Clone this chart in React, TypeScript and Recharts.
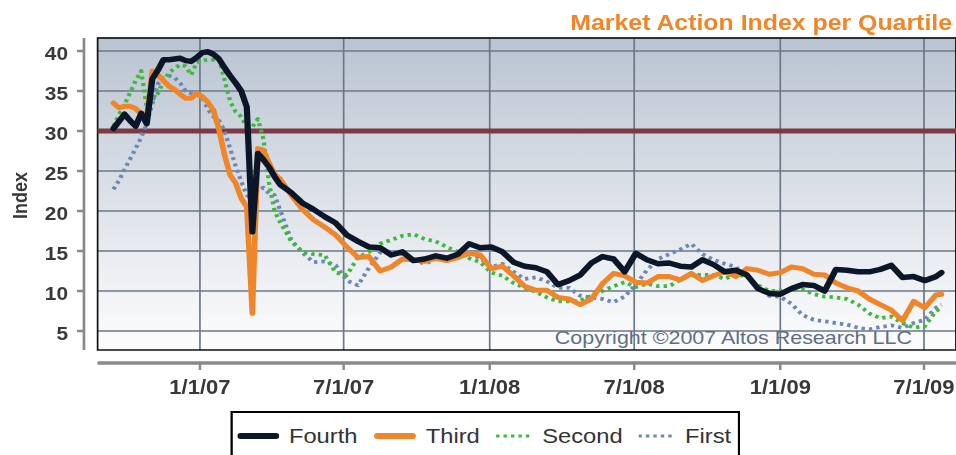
import React from "react";
import {
  LineChart, Line, XAxis, YAxis, CartesianGrid, ReferenceLine, ReferenceArea,
} from "recharts";

// weekly readings until mid April 2007, every other week after that
const weeks = [
  "2006-09-14", "2006-09-21", "2006-09-28", "2006-10-05", "2006-10-12", "2006-10-19", "2006-10-26", "2006-11-02", "2006-11-09", "2006-11-16",
  "2006-11-23", "2006-11-30", "2006-12-07", "2006-12-14", "2006-12-21", "2006-12-28", "2007-01-04", "2007-01-11", "2007-01-18", "2007-01-25",
  "2007-02-01", "2007-02-08", "2007-02-15", "2007-02-22", "2007-03-01", "2007-03-08", "2007-03-15", "2007-03-22", "2007-03-29", "2007-04-05",
  "2007-04-12", "2007-04-26", "2007-05-10", "2007-05-24", "2007-06-07", "2007-06-21", "2007-07-05", "2007-07-19", "2007-08-02", "2007-08-16",
  "2007-08-30", "2007-09-13", "2007-09-27", "2007-10-11", "2007-10-25", "2007-11-08", "2007-11-22", "2007-12-06", "2007-12-20", "2008-01-03",
  "2008-01-17", "2008-01-31", "2008-02-14", "2008-02-28", "2008-03-13", "2008-03-27", "2008-04-10", "2008-04-24", "2008-05-08", "2008-05-22",
  "2008-06-05", "2008-06-19", "2008-07-03", "2008-07-17", "2008-07-31", "2008-08-14", "2008-08-28", "2008-09-11", "2008-09-25", "2008-10-09",
  "2008-10-23", "2008-11-06", "2008-11-20", "2008-12-04", "2008-12-18", "2009-01-01", "2009-01-15", "2009-01-29", "2009-02-12", "2009-02-26",
  "2009-03-12", "2009-03-26", "2009-04-09", "2009-04-23", "2009-05-07", "2009-05-21", "2009-06-04", "2009-06-18", "2009-07-02", "2009-07-16",
  "2009-07-23",
];

const fourth = [
  30.3, 31.2, 32.1, 31.3, 30.6, 32.2, 30.9, 36.5, 37.6, 38.9,
  38.9, 39.0, 39.1, 38.8, 38.7, 39.2, 39.8, 39.9, 39.6, 39.0,
  37.9, 36.9, 36.0, 35.0, 33.0, 17.4, 27.2, 26.4, 25.5, 24.3,
  23.3, 22.3, 21.0, 20.2, 19.3, 18.5, 17.0, 16.2, 15.5, 15.4,
  14.5, 14.9, 13.8, 14.0, 14.4, 14.1, 14.6, 15.9, 15.4, 15.5,
  14.9, 13.6, 13.1, 12.9, 12.4, 10.8, 11.3, 12.0, 13.5, 14.3,
  14.0, 12.4, 14.7, 13.9, 13.4, 13.5, 13.1, 13.0, 13.9, 13.3,
  12.4, 12.6, 12.0, 10.3, 9.7, 9.6, 10.3, 10.8, 10.7, 10.0,
  12.7, 12.6, 12.4, 12.4, 12.7, 13.2, 11.7, 11.8, 11.3, 11.8,
  12.3,
];

const third = [
  33.5, 32.9, 33.1, 33.1, 32.8, 32.2, 31.8, 37.5, 37.0, 36.3,
  35.6, 35.2, 34.6, 34.1, 34.1, 34.7, 34.3, 33.6, 32.6, 30.2,
  27.0, 24.5, 23.5, 21.6, 20.5, 7.2, 27.8, 27.6, 26.0, 24.6,
  24.0, 22.0, 20.2, 18.9, 18.0, 17.0, 15.5, 14.2, 14.3, 12.5,
  13.0, 14.0, 13.9, 13.7, 14.1, 13.8, 14.2, 14.7, 14.5, 12.8,
  13.1, 11.9, 10.6, 10.1, 10.1, 9.2, 9.0, 8.3, 9.0, 10.9,
  12.2, 11.9, 11.1, 11.0, 11.8, 11.8, 11.4, 12.2, 11.3, 11.9,
  12.4, 11.8, 12.8, 12.6, 12.1, 12.3, 13.0, 12.8, 12.1, 12.0,
  11.0, 10.4, 10.0, 9.0, 8.3, 7.6, 6.3, 8.7, 7.9, 9.5,
  9.6,
];

const second = [
  30.6, 32.0, 33.3, 34.8, 36.3, 37.5, 33.0, 33.9, 34.7, 36.2,
  37.3, 37.8, 38.3, 38.1, 37.0, 38.6, 38.8, 38.9, 38.9, 39.0,
  36.4, 33.7, 32.4, 31.8, 30.5, 30.5, 31.5, 29.0, 23.5, 20.0,
  18.6, 16.2, 14.9, 14.6, 14.5, 12.3, 12.0, 14.2, 14.9, 15.9,
  16.4, 16.9, 17.1, 16.5, 16.2, 15.5, 14.9, 14.1, 13.6, 12.3,
  11.9, 11.0, 10.4, 9.9, 9.2, 8.7, 8.7, 8.8, 9.4, 10.0,
  10.6, 11.1, 10.5, 10.9, 10.6, 10.6, 11.4, 12.0, 12.0, 12.0,
  11.5, 12.1, 11.8, 10.7, 10.0, 10.0, 10.2, 10.2, 9.6, 9.3,
  9.2, 9.0, 8.3, 7.2, 6.6, 6.8, 6.0, 5.4, 5.6, 7.5,
  7.9,
];

const first = [
  22.7, 23.8, 25.2, 26.5, 27.8, 29.2, 30.9, 33.4, 35.9, 36.6,
  36.9, 36.7, 36.0, 35.0, 34.7, 34.5, 34.2, 32.7, 31.8, 31.3,
  30.0, 27.8, 25.6, 23.7, 22.0, 21.5, 22.6, 22.9, 22.2, 22.0,
  20.1, 16.4, 14.8, 13.6, 13.7, 13.2, 11.3, 10.7, 12.9, 14.8,
  15.0, 14.6, 13.9, 13.4, 14.0, 14.1, 14.3, 14.8, 14.1, 13.0,
  13.4, 12.4, 11.5, 11.7, 11.2, 10.4, 10.4, 9.4, 9.2, 9.0,
  8.6, 9.3, 10.8, 12.6, 14.0, 14.6, 15.2, 15.9, 14.6, 13.9,
  13.4, 13.0, 11.8, 10.4, 9.4, 9.3, 8.4, 7.0, 6.4, 6.2,
  6.0, 5.8, 5.4, 5.2, 5.5, 5.7, 5.4, 6.0, 6.4, 7.9,
  8.3,
];

const dateTicks = ["2007-01-01", "2007-07-01", "2008-01-01", "2008-07-01", "2009-01-01", "2009-07-01"];
const indexTicks = [5, 10, 15, 20, 25, 30, 35, 40];

const series = [
  { key: "fourth", name: "Fourth", color: "#0b1729", width: 5.5, dash: undefined as string | undefined },
  { key: "third", name: "Third", color: "#f0862a", width: 5, dash: undefined as string | undefined },
  { key: "second", name: "Second", color: "#3dba3d", width: 3.8, dash: "3 3.6" },
  { key: "first", name: "First", color: "#6d88b6", width: 3.8, dash: "3 3.6" },
];

// the original picture is stretched sideways, so everything is drawn narrower and scaled
const SX = 1.13;
const W = 846;
const FONT = "'Liberation Sans', Arial, Helvetica, sans-serif";
const AXIS_GREY = "#8a8a8a";
const TEXT = "#383838";

const DAY = 86400000;
const T0 = Date.parse("2007-01-01");
const X_MIN = T0 - 146.1 * DAY;
const X_MAX = T0 + 952.3 * DAY;
const FRAME_X = T0 - 128.9 * DAY;
const Y_MIN = 1;
const Y_MAX = 41.625;
const FRAME_Y = 2.625;

const data = weeks.map((d, i) => ({
  t: Date.parse(d),
  fourth: fourth[i],
  third: third[i],
  second: second[i],
  first: first[i],
}));

const fmtDate = (t: number) => {
  const d = new Date(t);
  return `${d.getUTCMonth() + 1}/${d.getUTCDate()}/${String(d.getUTCFullYear()).slice(2)}`;
};

const XTick = ({ x, y, payload }: any) => (
  <text x={x} y={y} dy={22} textAnchor="middle" fontFamily={FONT} fontSize={19.5} fontWeight="bold" fill={TEXT}>
    {fmtDate(payload.value)}
  </text>
);

const YTick = ({ x, y, payload }: any) => (
  <text x={x} y={y} dy={8.6} textAnchor="end" fontFamily={FONT} fontSize={18.5} fontWeight="bold" fill={TEXT}>
    {payload.value}
  </text>
);

const IndexTitle = () => (
  <text transform="translate(24.2 195.5) rotate(-90)" textAnchor="middle" fontFamily={FONT} fontSize={18} fontWeight="bold" fill={TEXT}>
    Index
  </text>
);

const Copyright = ({ viewBox }: any) => (
  <text x={viewBox.x + viewBox.width - 39} y={viewBox.y + viewBox.height - 6} textAnchor="end" fontFamily={FONT} fontSize={19} fill="#5d6e82">
    Copyright ©2007 Altos Research LLC
  </text>
);

export default function App() {
  return (
    <div style={{ position: "relative", width: 956, height: 455, overflow: "hidden", background: "#fff" }}>
      <style>{"body{margin:0}"}</style>
      <div style={{ position: "absolute", left: 0, top: 0, width: W, height: 455, transform: `scaleX(${SX})`, transformOrigin: "0 0", fontFamily: FONT }}>
        <div style={{ position: "absolute", right: 3.5, top: 12.4, fontSize: 22, lineHeight: "22px", fontWeight: "bold", color: "#f0862a", whiteSpace: "nowrap" }}>
          Market Action Index per Quartile
        </div>
        <LineChart width={W} height={455} data={data} margin={{ top: 38, right: 0, bottom: 0, left: 0 }}>
          <defs>
            <linearGradient id="plotBg" x1="0" y1="0" x2="0" y2="1">
              <stop offset="0%" stopColor="#b9c4d1" />
              <stop offset="50%" stopColor="#dce1e8" />
              <stop offset="100%" stopColor="#fdfdfe" />
            </linearGradient>
          </defs>
          <CartesianGrid x={86.5} y={38} width={W - 86.5} height={312} fill="url(#plotBg)" fillOpacity={1} stroke="#6c7886" strokeWidth={1.5} />
          <XAxis
            dataKey="t" type="number" domain={[X_MIN, X_MAX]} allowDataOverflow
            ticks={dateTicks.map((d) => Date.parse(d))} interval={0} height={92}
            axisLine={false} tickLine={{ stroke: AXIS_GREY, strokeWidth: 2.2 }} tickSize={7}
            tick={(p: any) => <XTick {...p} />}
          />
          <YAxis
            type="number" domain={[Y_MIN, Y_MAX]} allowDataOverflow ticks={indexTicks} interval={0} width={74.3}
            axisLine={false} tickLine={{ stroke: AXIS_GREY, strokeWidth: 2.5 }} tickSize={6.2} tickMargin={7.9}
            tick={(p: any) => <YTick {...p} />}
            label={{ content: IndexTitle }}
          />
          <ReferenceLine segment={[{ x: FRAME_X, y: 30 }, { x: X_MAX, y: 30 }]} stroke="#7d3a45" strokeWidth={5} ifOverflow="visible" />
          <ReferenceLine segment={[{ x: X_MIN, y: FRAME_Y }, { x: X_MIN, y: Y_MAX }]} stroke={AXIS_GREY} strokeWidth={2.4} ifOverflow="visible" />
          <ReferenceLine segment={[{ x: FRAME_X, y: Y_MIN }, { x: X_MAX, y: Y_MIN }]} stroke={AXIS_GREY} strokeWidth={3.5} ifOverflow="visible" />
          <ReferenceArea
            x1={FRAME_X} x2={X_MAX} y1={FRAME_Y} y2={Y_MAX} fill="none" stroke="#111" strokeWidth={1.5}
            ifOverflow="visible" label={{ content: Copyright }}
          />
          {[...series].reverse().map((s) => (
            <Line
              key={s.key} dataKey={s.key} name={s.name} type="linear" stroke={s.color} strokeWidth={s.width}
              strokeDasharray={s.dash} strokeLinejoin="round" strokeLinecap={s.dash ? "butt" : "round"}
              dot={false} activeDot={false} isAnimationActive={false}
            />
          ))}
        </LineChart>
        <div style={{ position: "absolute", left: 203.5, top: 411, width: 451.3, height: 60, border: "2.5px solid #000", boxSizing: "border-box", background: "#fff" }}>
          <div style={{ display: "flex", alignItems: "center", height: 45, paddingLeft: 4 }}>
            {series.map((s) => (
              <div key={s.key} style={{ display: "flex", alignItems: "center", marginRight: 14.2 }}>
                <svg width={s.dash ? 32 : 37.2} height={8}>
                  <line
                    x1={s.dash ? 0 : 3} y1={4} x2={s.dash ? 32 : 34.2} y2={4} stroke={s.color}
                    strokeWidth={s.dash ? 3 : 6} strokeLinecap={s.dash ? "butt" : "round"} strokeDasharray={s.dash}
                  />
                </svg>
                <span style={{ marginLeft: 9, fontSize: 21, color: "#333", whiteSpace: "nowrap" }}>{s.name}</span>
              </div>
            ))}
          </div>
        </div>
      </div>
    </div>
  );
}
